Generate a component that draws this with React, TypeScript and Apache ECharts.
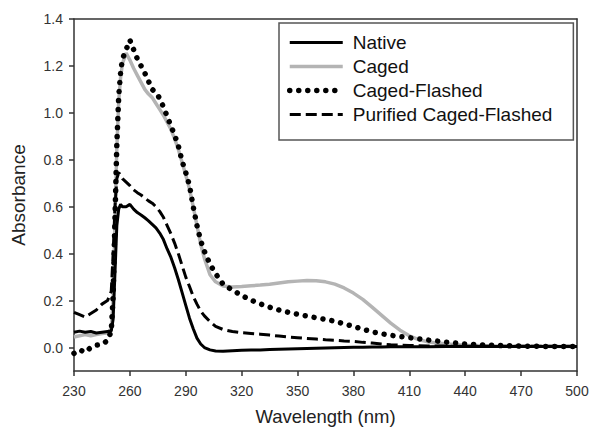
import React, { useEffect, useRef } from "react";
import * as echarts from "echarts";

const wavelengths = [
  230, 233, 236, 239, 242, 245, 248, 250, 251, 252, 253, 254, 255, 256, 258, 260, 262, 264, 266, 268,
  270, 272, 274, 276, 278, 280, 282, 284, 286, 288, 290, 292, 294, 296, 298, 300, 303, 306, 310,
  315, 320, 325, 330, 335, 340, 345, 350, 355, 360, 365, 370, 375, 380, 385, 390, 395, 400, 405, 410, 415, 420,
  430, 440, 450, 460, 470, 480, 490, 500,
];

const native = [
  0.065, 0.07, 0.065, 0.068, 0.062, 0.065, 0.068, 0.07, 0.12, 0.32, 0.52, 0.59, 0.61, 0.6, 0.6, 0.61, 0.59, 0.575, 0.565, 0.553,
  0.54, 0.525, 0.51, 0.488, 0.46, 0.42, 0.385, 0.34, 0.29, 0.235, 0.18, 0.125, 0.08, 0.04, 0.015, 0.0, -0.01, -0.015, -0.016,
  -0.014, -0.012, -0.011, -0.01, -0.008, -0.007, -0.006, -0.005, -0.004, -0.003, -0.002, -0.001, 0.0, 0.001, 0.001, 0.002, 0.002, 0.003, 0.003, 0.003, 0.003, 0.003,
  0.004, 0.004, 0.004, 0.004, 0.004, 0.004, 0.004, 0.004,
];

const caged = [
  0.045, 0.05, 0.055, 0.05, 0.055, 0.06, 0.062, 0.08, 0.2, 0.55, 0.85, 1.05, 1.15, 1.21, 1.255, 1.225, 1.19, 1.16, 1.13, 1.1,
  1.08, 1.065, 1.04, 1.015, 0.99, 0.96, 0.93, 0.89, 0.845, 0.79, 0.735, 0.675, 0.6, 0.52, 0.44, 0.38, 0.31, 0.28, 0.262,
  0.258, 0.26, 0.263, 0.266, 0.27, 0.275, 0.28, 0.283, 0.286, 0.285, 0.28, 0.27, 0.254, 0.232, 0.205, 0.172, 0.138, 0.104, 0.074, 0.05, 0.034, 0.024,
  0.015, 0.01, 0.008, 0.006, 0.005, 0.005, 0.004, 0.004,
];

const cagedFlashed = [
  -0.025, -0.01, -0.02, 0.0, 0.01, 0.013, 0.03, 0.07, 0.22, 0.55, 0.87, 1.07, 1.17, 1.23, 1.27, 1.31, 1.27, 1.23, 1.2, 1.17,
  1.135, 1.1, 1.085, 1.062, 1.025, 0.985, 0.945, 0.905, 0.86, 0.795, 0.745, 0.69, 0.6, 0.52, 0.455, 0.41, 0.355, 0.315, 0.27,
  0.245, 0.222, 0.202, 0.186, 0.172, 0.16, 0.15, 0.142, 0.134, 0.127, 0.12, 0.112, 0.101, 0.09, 0.078, 0.067, 0.059, 0.052, 0.047, 0.042, 0.037, 0.032,
  0.023, 0.015, 0.011, 0.008, 0.006, 0.005, 0.004, 0.004,
];

const purified = [
  0.15, 0.14, 0.13, 0.145, 0.16, 0.185, 0.2, 0.24, 0.4, 0.6, 0.72, 0.745, 0.735, 0.72, 0.705, 0.69, 0.672, 0.66, 0.65, 0.637,
  0.625, 0.615, 0.6, 0.58, 0.555, 0.52, 0.485, 0.445, 0.4, 0.35, 0.3, 0.26, 0.218, 0.185, 0.155, 0.135, 0.11, 0.09, 0.077,
  0.068, 0.063, 0.06, 0.057, 0.053, 0.049, 0.045, 0.042, 0.039, 0.036, 0.033, 0.031, 0.028, 0.026, 0.022, 0.019, 0.015, 0.012, 0.01, 0.009, 0.008, 0.007,
  0.006, 0.005, 0.005, 0.005, 0.005, 0.005, 0.005, 0.005,
];

const seriesNames = ["Native", "Caged", "Caged-Flashed", "Purified Caged-Flashed"];
const xTicks = [230, 260, 290, 320, 350, 380, 410, 440, 470, 500];
const yTicks = [0, 0.2, 0.4, 0.6, 0.8, 1.0, 1.2, 1.4];

const FONT = "'Liberation Sans', Arial, sans-serif";
const AXIS_COLOR = "#333";

const pair = (ys: number[]) => wavelengths.map((w, i) => [w, ys[i]]);

export default function App() {
  const ref = useRef<HTMLDivElement>(null);
  useEffect(() => {
    if (!ref.current) return;
    const chart = echarts.init(ref.current, undefined, { renderer: "svg" });
    const common = {
      type: "line",
      showSymbol: false,
      symbol: "none",
      smooth: false,
      xAxisIndex: 0,
      yAxisIndex: 0,
    };
    const frameLine = { show: true, onZero: false, lineStyle: { color: AXIS_COLOR, width: 1.5 } };
    chart.setOption({
      animation: false,
      backgroundColor: "#fff",
      grid: { left: 74, right: 13, top: 19, bottom: 59, outerBoundsMode: "none", containLabel: false },
      legend: {
        orient: "vertical",
        left: 279,
        top: 23,
        data: seriesNames,
        backgroundColor: "#fff",
        borderColor: "#555",
        borderWidth: 1.5,
        borderRadius: 0,
        padding: [10, 21, 16, 8],
        itemWidth: 53,
        itemHeight: 14,
        itemGap: 5,
        lineStyle: { width: "inherit" },
        itemStyle: { opacity: 0, color: "transparent", borderWidth: 0 },
        textStyle: { fontFamily: FONT, fontSize: 19, color: "#111", padding: [0, 0, 0, 5] },
        selectedMode: false,
      },
      xAxis: [
        {
          type: "value",
          position: "bottom",
          min: 230,
          max: 500,
          name: "Wavelength (nm)",
          nameLocation: "middle",
          nameGap: 36,
          nameTextStyle: { fontFamily: FONT, fontSize: 18.5, color: "#222" },
          splitLine: { show: false },
          axisLine: frameLine,
          axisTick: { customValues: xTicks, length: 5, lineStyle: { color: AXIS_COLOR, width: 1.5 } },
          axisLabel: {
            customValues: xTicks,
            margin: 13,
            fontFamily: FONT,
            fontSize: 14,
            color: "#333",
          },
        },
        {
          type: "value",
          position: "top",
          min: 230,
          max: 500,
          splitLine: { show: false },
          axisLine: frameLine,
          axisTick: { show: false },
          axisLabel: { show: false },
        },
      ],
      yAxis: [
        {
          type: "value",
          position: "left",
          min: -0.1,
          max: 1.4,
          name: "Absorbance",
          nameLocation: "middle",
          nameGap: 46,
          nameTextStyle: { fontFamily: FONT, fontSize: 19, color: "#222" },
          splitLine: { show: false },
          axisLine: frameLine,
          axisTick: { customValues: yTicks, length: 5, lineStyle: { color: AXIS_COLOR, width: 1.5 } },
          axisLabel: {
            customValues: yTicks,
            margin: 11,
            fontFamily: FONT,
            fontSize: 14,
            color: "#333",
            formatter: (v: number) => v.toFixed(1),
          },
        },
        {
          type: "value",
          position: "right",
          min: -0.1,
          max: 1.4,
          splitLine: { show: false },
          axisLine: frameLine,
          axisTick: { show: false },
          axisLabel: { show: false },
        },
      ],
      series: [
        {
          ...common,
          name: seriesNames[0],
          z: 3,
          data: pair(native),
          lineStyle: { color: "#000", width: 3 },
        },
        {
          ...common,
          name: seriesNames[1],
          z: 2,
          data: pair(caged),
          lineStyle: { color: "#b4b4b4", width: 3.5 },
        },
        {
          ...common,
          name: seriesNames[2],
          z: 4,
          data: pair(cagedFlashed),
          lineStyle: { color: "#000", width: 5.5, type: [0.01, 9], cap: "round" },
        },
        {
          ...common,
          name: seriesNames[3],
          z: 3,
          data: pair(purified),
          lineStyle: { color: "#000", width: 3, type: [11, 5] },
        },
      ],
    });
    return () => chart.dispose();
  }, []);
  return <div ref={ref} style={{ position: "fixed", left: 0, top: 0, width: 590, height: 430 }} />;
}
